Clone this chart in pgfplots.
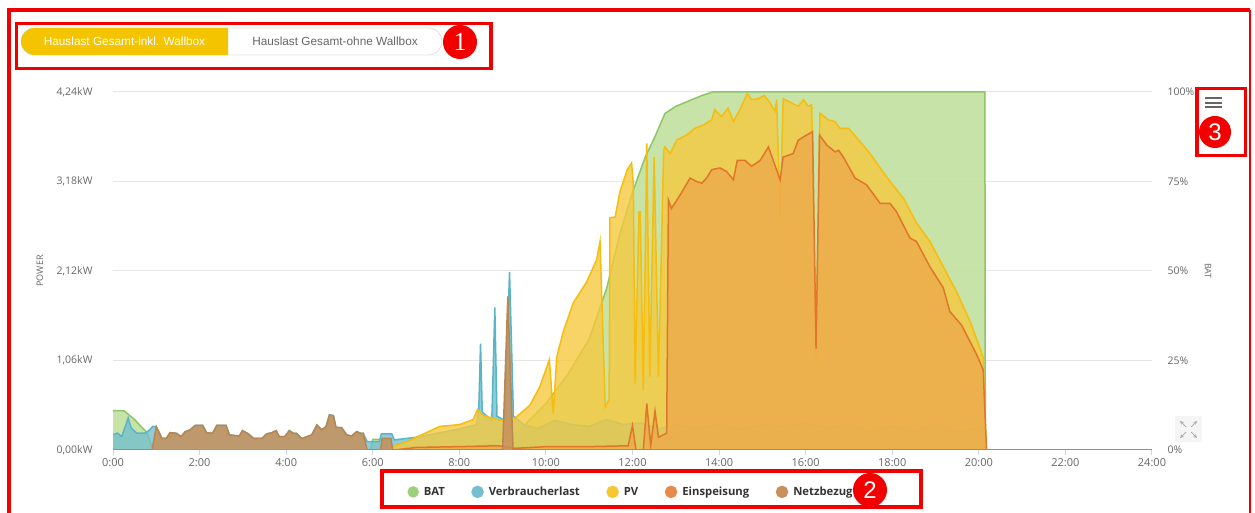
\documentclass[border=0pt]{standalone}
\usepackage{pgfplots}
\usepackage{pgfplotstable}
\pgfplotsset{compat=1.18}
\usepackage{fontspec}
\setmainfont{Open Sans}
\newfontfamily\arialf{Liberation Sans}
\newfontfamily\serff{Liberation Serif}
\definecolor{batc}{HTML}{8CC665}
\definecolor{batf}{HTML}{C4E2A2}
\definecolor{vlc}{HTML}{5AB4C8}
\definecolor{vlf}{HTML}{74C0CC}
\definecolor{pvc}{HTML}{F5BD0E}
\definecolor{pvf}{HTML}{F5C93F}
\definecolor{einc}{HTML}{E0762A}
\definecolor{einf}{HTML}{EDAA4C}
\definecolor{netc}{HTML}{B9864F}
\definecolor{netf}{HTML}{C8915C}
\definecolor{tickc}{HTML}{666666}
\definecolor{gridc}{HTML}{E6E6E6}
\definecolor{axc}{HTML}{CCD6EB}
\definecolor{annot}{HTML}{F20000}
\definecolor{toggle}{HTML}{F5C400}

% BAT state of charge (%)
\pgfplotstableread{
t v
0 11
0.25 11
0.35 10
0.5 8.5
0.65 6.5
0.78 5
0.88 1.5
0.95 0
5.95 0
6.0 3
6.4 3
6.45 0
8.0 0
8.5 1
9.0 3
9.4 5.6
10.0 13
10.5 21
11.0 31
11.4 45
11.7 60
12.0 72
12.3 82
12.5 87
12.75 94
13.0 96
13.3 97.5
13.6 99
13.85 100
20.14 100
20.15 0
24 0
}\batdata

% Verbraucherlast (kW)
\pgfplotstableread{
t v
0 0.18
0.1 0.2
0.2 0.16
0.3 0.3
0.35 0.38
0.42 0.26
0.55 0.2
0.75 0.2
0.85 0.24
0.92 0.28
1.00 0.276
1.13 0.138
1.23 0.138
1.32 0.205
1.47 0.197
1.57 0.158
1.67 0.217
1.78 0.237
1.90 0.292
2.07 0.292
2.16 0.205
2.30 0.197
2.40 0.292
2.61 0.292
2.69 0.178
2.92 0.166
2.99 0.229
3.13 0.19
3.24 0.138
3.44 0.138
3.55 0.19
3.67 0.205
3.77 0.229
3.84 0.158
3.97 0.158
4.07 0.229
4.17 0.197
4.24 0.197
4.36 0.134
4.48 0.158
4.59 0.178
4.71 0.296
4.82 0.237
4.92 0.276
5.00 0.415
5.09 0.407
5.15 0.268
5.28 0.264
5.40 0.178
5.51 0.166
5.63 0.217
5.72 0.197
5.78 0.197
5.87 0.1
6.15 0.1
6.2 0.19
6.44 0.19
6.5 0.12
7.0 0.15
7.5 0.2
8.0 0.25
8.4 0.3
8.45 0.5
8.49 1.26
8.53 0.45
8.75 0.35
8.82 1.69
8.87 0.4
9.05 0.35
9.16 2.11
9.25 0.4
9.5 0.3
9.8 0.25
10.2 0.35
10.6 0.3
11.0 0.28
11.4 0.36
11.8 0.3
12.2 0.32
12.6 0.25
13.0 0.3
13.5 0.26
14.0 0.3
14.5 0.25
15.0 0.3
15.5 0.28
16.0 0.32
16.5 0.26
17.0 0.3
17.5 0.22
18.0 0.28
18.5 0.22
19.0 0.3
19.5 0.22
20.0 0.25
20.14 0.2
20.16 0
24 0
}\vldata

% PV (kW)
\pgfplotstableread{
t v
0 0
6.4 0
6.5 0.05
6.8 0.1
7.0 0.15
7.3 0.22
7.55 0.28
8.0 0.3
8.32 0.36
8.42 0.48
8.55 0.41
8.94 0.35
9.29 0.38
9.63 0.53
9.86 0.75
10.08 1.07
10.17 0.43
10.25 1.10
10.4 1.40
10.63 1.74
10.94 1.99
11.17 2.25
11.25 2.47
11.37 0.51
11.46 0.6
11.48 2.75
11.6 2.76
11.71 3.06
11.88 3.32
11.98 3.40
12.02 3.14
12.06 0.79
12.15 2.82
12.18 2.82
12.25 0.71
12.33 3.63
12.4 0.87
12.5 3.47
12.6 0.87
12.72 3.55
12.75 3.59
12.87 3.51
13.02 3.67
13.25 3.73
13.44 3.81
13.64 3.85
13.83 3.91
13.9 4.03
14.06 3.95
14.21 4.05
14.33 3.89
14.48 4.03
14.65 4.22
14.75 4.15
14.91 4.16
15.04 4.20
15.18 4.11
15.29 4.01
15.33 4.15
15.41 2.78
15.48 4.16
15.68 4.11
15.83 4.07
15.95 4.15
16.06 4.07
16.14 4.09
16.24 1.09
16.33 3.99
16.52 3.91
16.68 3.89
16.79 3.81
16.99 3.81
17.26 3.65
17.49 3.51
17.72 3.34
17.95 3.18
18.26 2.98
18.56 2.69
18.87 2.47
19.18 2.17
19.49 1.87
19.8 1.52
20.03 1.20
20.1 1.09
20.16 0
24 0
}\pvdata

% Einspeisung (kW)
\pgfplotstableread{
t v
0 0
6.5 0
7.0 0.03
8.0 0.04
8.9 0.05
9.3 0.02
10.0 0.04
11.0 0.04
11.9 0.05
12.0 0.29
12.08 0
12.25 0
12.33 0.55
12.42 0.05
12.52 0.46
12.6 0.15
12.79 0.2
12.83 2.96
12.9 2.86
13.1 3.02
13.33 3.22
13.48 3.18
13.6 3.16
13.71 3.22
13.83 3.32
14.02 3.34
14.17 3.30
14.33 3.20
14.42 3.43
14.6 3.43
14.75 3.36
14.95 3.43
15.14 3.59
15.25 3.43
15.41 3.20
15.48 3.47
15.71 3.51
15.83 3.67
16.02 3.73
16.16 3.77
16.24 1.2
16.32 3.73
16.49 3.61
16.68 3.53
16.76 3.55
16.87 3.47
17.14 3.22
17.41 3.14
17.72 2.92
17.95 2.92
18.1 2.82
18.41 2.51
18.56 2.47
18.87 2.17
19.18 1.92
19.33 1.64
19.6 1.48
19.8 1.28
19.95 1.13
20.1 0.95
20.18 0
24 0
}\eindata

% Netzbezug (kW)
\pgfplotstableread{
t v
0 0
0.90 0
0.92 0.05
1.00 0.276
1.13 0.138
1.23 0.138
1.32 0.205
1.47 0.197
1.57 0.158
1.67 0.217
1.78 0.237
1.90 0.292
2.07 0.292
2.16 0.205
2.30 0.197
2.40 0.292
2.61 0.292
2.69 0.178
2.92 0.166
2.99 0.229
3.13 0.19
3.24 0.138
3.44 0.138
3.55 0.19
3.67 0.205
3.77 0.229
3.84 0.158
3.97 0.158
4.07 0.229
4.17 0.197
4.24 0.197
4.36 0.134
4.48 0.158
4.59 0.178
4.71 0.296
4.82 0.237
4.92 0.276
5.00 0.415
5.09 0.407
5.15 0.268
5.28 0.264
5.40 0.178
5.51 0.166
5.63 0.217
5.72 0.197
5.78 0.197
5.87 0
6.18 0
6.22 0.138
6.42 0.138
6.46 0
9.00 0
9.12 1.82
9.24 0
24 0
}\netdata

\begin{document}
\begin{tikzpicture}
\path[use as bounding box] (0pt,0pt) rectangle (1255pt,513pt);

% ---------- BAT axis (right, %)
\begin{axis}[at={(113pt,63pt)}, anchor=origin, scale only axis,
  width=1039pt, height=358pt,
  xmin=0, xmax=24, ymin=0, ymax=100,
  axis x line=none, axis y line*=right, y axis line style={draw=none},
  ytick={0,25,50,75,100}, yticklabels={0\%,25\%,50\%,75\%,100\%},
  major tick length=0pt, ytick style={draw=none},
  ymajorgrids, grid style={gridc, line width=1pt},
  yticklabel style={font=\fontsize{10.5}{12}\selectfont, text=tickc, anchor=west},
  yticklabel shift=12pt,
  ylabel={BAT},
  ylabel style={at={(axis description cs:1.054,0.5)}, anchor=center, rotate=180,
    font=\fontsize{9}{11}\selectfont, text=tickc},
]
\addplot[draw=none, fill=batf, fill opacity=0.95] table[x=t,y=v] {\batdata} \closedcycle;
\addplot[batc, line width=1.5pt] table[x=t,y=v] {\batdata};
\end{axis}

% ---------- Power axis (left, kW)
\begin{axis}[at={(113pt,63pt)}, anchor=origin, scale only axis,
  width=1039pt, height=358pt,
  xmin=0, xmax=24, ymin=0, ymax=4.24,
  axis x line*=bottom, axis y line*=left,
  y axis line style={draw=none}, x axis line style={axc, line width=1pt, -},
  xtick={0,2,4,6,8,10,12,14,16,18,20,22,24},
  xticklabels={0:00,2:00,4:00,6:00,8:00,10:00,12:00,14:00,16:00,18:00,20:00,22:00,24:00},
  ytick={0,1.06,2.12,3.18,4.24},
  yticklabels={{0,00kW},{1,06kW},{2,12kW},{3,18kW},{4,24kW}},
  tick align=outside, major tick length=5pt,
  xtick style={axc, line width=1pt}, ytick style={draw=none},
  xticklabel style={font=\fontsize{11}{12}\selectfont, text=tickc},
  yticklabel style={font=\fontsize{10.5}{12}\selectfont, text=tickc, anchor=east},
  yticklabel shift=12pt,
  ylabel={POWER},
  ylabel style={at={(axis description cs:-0.0703,0.5)}, anchor=center,
    font=\fontsize{9}{11}\selectfont, text=tickc},
  legend columns=-1,
  legend style={draw=none, fill=none, at={(axis description cs:0.4986,-0.117)}, anchor=center,
    font=\bfseries\fontsize{11.3}{12}\selectfont, text=black!80,
    /tikz/every odd column/.append style={column sep=3pt},
    /tikz/every even column/.append style={column sep=24.5pt}},
]
\addlegendimage{legend image code/.code={\fill[batc!85] (0pt,0pt) circle (5.5pt);}}
\addlegendentry{BAT}

\addplot[draw=none, fill=vlf, fill opacity=0.8, forget plot] table[x=t,y=v] {\vldata} \closedcycle;
\addplot[vlc, line width=1.5pt, legend image code/.code={\fill[vlc!85] (0pt,0pt) circle (5.5pt);}] table[x=t,y=v] {\vldata};
\addlegendentry{Verbraucherlast}

\addplot[draw=none, fill=pvf, fill opacity=0.8, forget plot] table[x=t,y=v] {\pvdata} \closedcycle;
\addplot[pvc, line width=1.5pt, legend image code/.code={\fill[pvc!85] (0pt,0pt) circle (5.5pt);}] table[x=t,y=v] {\pvdata};
\addlegendentry{PV}

\addplot[draw=none, fill=einf, fill opacity=0.8, forget plot] table[x=t,y=v] {\eindata} \closedcycle;
\addplot[einc, line width=1.5pt, legend image code/.code={\fill[einc!85] (0pt,0pt) circle (5.5pt);}] table[x=t,y=v] {\eindata};
\addlegendentry{Einspeisung}

\addplot[draw=none, fill=netf, fill opacity=0.85, forget plot] table[x=t,y=v] {\netdata} \closedcycle;
\addplot[netc, line width=1.5pt, legend image code/.code={\fill[netf] (0pt,0pt) circle (5.5pt);}] table[x=t,y=v] {\netdata};
\addlegendentry{Netzbezug}
\end{axis}

% ---------- annotations
\begin{scope}[x=1pt,y=1pt]
% outer frame
\draw[annot, line width=4pt] (9,0) -- (9,503) -- (1250,503);
\draw[annot, line width=1.5pt] (1250,503) -- (1250,0);

% toggle (box 1)
\draw[gray!25, line width=0.8pt, fill=white, rounded corners=13.5pt] (21,458) rectangle (442,485);
\begin{scope}
\clip (20,457) rectangle (228,486);
\fill[toggle, rounded corners=13.5pt] (21,458) rectangle (262,485);
\end{scope}
\node[text=white, font=\arialf\fontsize{11.8}{13}\selectfont] at (124.5,471.5) {Hauslast Gesamt-inkl. Wallbox};
\node[text=black!60, font=\arialf\fontsize{11.8}{13}\selectfont] at (335,471.5) {Hauslast Gesamt-ohne Wallbox};
\draw[annot, line width=3.5pt] (16.5,489.5) rectangle (491,444.5);
\node[circle, fill=annot, minimum size=34pt, inner sep=0pt, text=white,
  font=\serff\fontsize{26}{26}\selectfont] at (460,471) {1};

% legend box 2
\draw[annot, line width=4pt] (382,41.5) rectangle (920.5,5.5);
\node[circle, fill=annot, minimum size=34pt, inner sep=0pt, text=white,
  font=\arialf\fontsize{24}{24}\selectfont] at (870,23) {2};

% menu box 3
\draw[tickc, line width=2pt] (1205,415) -- (1222,415) (1205,410) -- (1222,410) (1205,405.5) -- (1222,405.5);
\draw[annot, line width=3.5pt] (1197,424.5) rectangle (1245.5,357.5);
\node[circle, fill=annot, minimum size=32pt, inner sep=0pt, text=white,
  font=\arialf\fontsize{24}{24}\selectfont] at (1215,381) {3};

% expand icon
\fill[gray!8] (1175,71) rectangle (1202,97);
\draw[gray!70, line width=0.7pt, ->, >=stealth] (1186,86) -- (1180,92);
\draw[gray!70, line width=0.7pt, ->, >=stealth] (1191,86) -- (1197,92);
\draw[gray!70, line width=0.7pt, ->, >=stealth] (1186,81) -- (1180,75);
\draw[gray!70, line width=0.7pt, ->, >=stealth] (1191,81) -- (1197,75);
\end{scope}
\end{tikzpicture}
\end{document}
